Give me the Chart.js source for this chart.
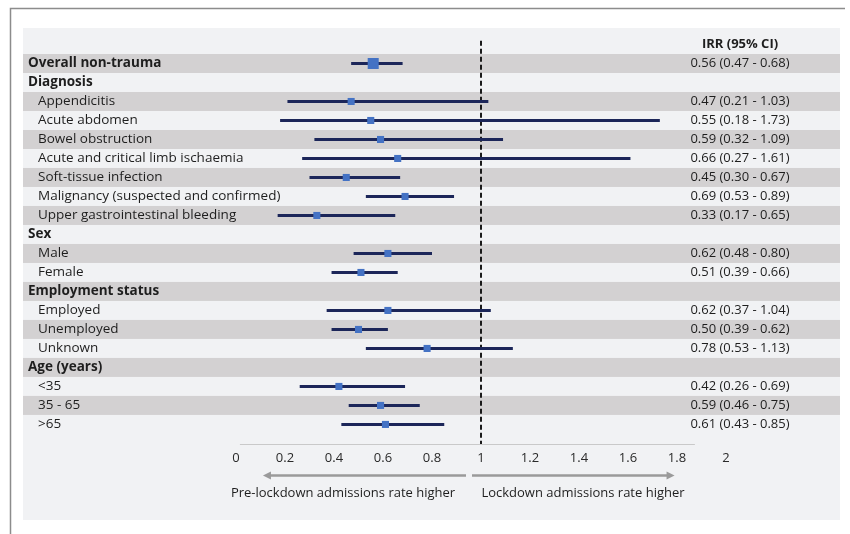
<!DOCTYPE html>
<html>
<head>
<meta charset="utf-8">
<script src="https://cdn.jsdelivr.net/npm/chart.js@4/dist/chart.umd.min.js"></script>
<style>
  html, body { margin: 0; padding: 0; background: #ffffff; }
  canvas { display: block; }
</style>
</head>
<body>
<canvas id="forest" width="850" height="534"></canvas>
<script>
// Rows of the forest plot, top to bottom
const rowLabels = [
  'Overall non-trauma', 'Diagnosis', 'Appendicitis', 'Acute abdomen', 'Bowel obstruction',
  'Acute and critical limb ischaemia', 'Soft-tissue infection', 'Malignancy (suspected and confirmed)',
  'Upper gastrointestinal bleeding', 'Sex', 'Male', 'Female', 'Employment status', 'Employed',
  'Unemployed', 'Unknown', 'Age (years)', '<35', '35 - 65', '>65'
];
// Bold heading rows (not indented)
const headingRows = ['Overall non-trauma', 'Diagnosis', 'Sex', 'Employment status', 'Age (years)'];
// Incidence rate ratios and 95% confidence limits
const irr   = [0.56, null, 0.47, 0.55, 0.59, 0.66, 0.45, 0.69, 0.33, null, 0.62, 0.51, null, 0.62, 0.50, 0.78, null, 0.42, 0.59, 0.61];
const ciLow = [0.47, null, 0.21, 0.18, 0.32, 0.27, 0.30, 0.53, 0.17, null, 0.48, 0.39, null, 0.37, 0.39, 0.53, null, 0.26, 0.46, 0.43];
const ciHigh= [0.68, null, 1.03, 1.73, 1.09, 1.61, 0.67, 0.89, 0.65, null, 0.80, 0.66, null, 1.04, 0.62, 1.13, null, 0.69, 0.75, 0.85];
const xTicks = [0, 0.2, 0.4, 0.6, 0.8, 1, 1.2, 1.4, 1.6, 1.8, 2];
const columnTitle = 'IRR (95% CI)';
const leftNote = 'Pre-lockdown admissions rate higher';
const rightNote = 'Lockdown admissions rate higher';

const FONT = '"Open Sans", "Liberation Sans", sans-serif';

// Confidence-interval segments, separated by gaps
const ciPoints = [];
const estPoints = [];
const estRadius = [];
irr.forEach((v, i) => {
  if (v === null) return;
  ciPoints.push({ x: ciLow[i], y: i }, { x: ciHigh[i], y: i }, { x: null, y: null });
  estPoints.push({ x: v, y: i });
  estRadius.push(i === 0 ? 7.8 : 5);
});

const backdrop = {
  id: 'backdrop',
  beforeDraw(chart) {
    const { ctx, scales: { y } } = chart;
    ctx.save();
    // outer frame
    ctx.strokeStyle = '#8c8c8c';
    ctx.lineWidth = 1.5;
    ctx.beginPath();
    ctx.moveTo(10.5, 534);
    ctx.lineTo(10.5, 8.5);
    ctx.lineTo(845, 8.5);
    ctx.stroke();
    // panel
    ctx.fillStyle = '#f1f2f4';
    ctx.fillRect(23, 28, 817, 492);
    // striped rows
    ctx.fillStyle = '#d3d1d2';
    rowLabels.forEach((_, i) => {
      if (i % 2 === 0) {
        const top = y.getPixelForValue(i - 0.5);
        const bot = y.getPixelForValue(i + 0.5);
        ctx.fillRect(23, top, 817, bot - top);
      }
    });
    ctx.restore();
  },
  afterDraw(chart) {
    const { ctx, scales: { x, y } } = chart;
    ctx.save();
    ctx.textBaseline = 'middle';
    // row labels and interval text
    rowLabels.forEach((lab, i) => {
      const bold = headingRows.includes(lab);
      ctx.font = (bold ? '700 ' : '400 ') + '13.5px ' + FONT;
      ctx.fillStyle = '#1e1e1e';
      ctx.textAlign = 'left';
      ctx.fillText(lab, bold ? 28 : 38, y.getPixelForValue(i));
      if (irr[i] !== null) {
        ctx.font = '400 13px ' + FONT;
        ctx.textAlign = 'center';
        const txt = irr[i].toFixed(2) + ' (' + ciLow[i].toFixed(2) + ' - ' + ciHigh[i].toFixed(2) + ')';
        ctx.fillText(txt, 740, y.getPixelForValue(i));
      }
    });
    ctx.font = '700 13px ' + FONT;
    ctx.textAlign = 'center';
    ctx.fillText(columnTitle, 740, y.getPixelForValue(-1));

    // axis line
    const axisY = Math.round(chart.chartArea.bottom) + 0.5;
    ctx.strokeStyle = '#c9c9c9';
    ctx.lineWidth = 1;
    ctx.beginPath();
    ctx.moveTo(x.getPixelForValue(0.016), axisY);
    ctx.lineTo(x.getPixelForValue(1.873), axisY);
    ctx.stroke();

    // direction arrows
    const arrowY = 475.5;
    const p1 = x.getPixelForValue(1);
    const arrow = (from, to) => {
      const dir = Math.sign(to - from);
      ctx.strokeStyle = '#9a9a9a';
      ctx.fillStyle = '#9a9a9a';
      ctx.lineWidth = 2.5;
      ctx.beginPath();
      ctx.moveTo(from, arrowY);
      ctx.lineTo(to - dir * 6, arrowY);
      ctx.stroke();
      ctx.beginPath();
      ctx.moveTo(to, arrowY);
      ctx.lineTo(to - dir * 8, arrowY - 4);
      ctx.lineTo(to - dir * 8, arrowY + 4);
      ctx.closePath();
      ctx.fill();
    };
    arrow(p1 - 15, x.getPixelForValue(0.11));
    arrow(p1 - 9, x.getPixelForValue(1.79));

    ctx.font = '400 13px ' + FONT;
    ctx.fillStyle = '#1e1e1e';
    ctx.textAlign = 'center';
    ctx.fillText(leftNote, 343, 493);
    ctx.fillText(rightNote, 583, 493);
    ctx.restore();
  }
};

new Chart(document.getElementById('forest'), {
  type: 'scatter',
  data: {
    datasets: [
      {
        label: 'null line',
        data: [{ x: 1, y: -1.2 }, { x: 1, y: 20.03 }],
        showLine: true,
        borderColor: '#1a1a1a',
        borderWidth: 2,
        borderDash: [5, 3],
        pointRadius: 0,
        order: 3
      },
      {
        label: '95% CI',
        data: ciPoints,
        showLine: true,
        spanGaps: false,
        borderColor: '#1c2659',
        borderWidth: 3,
        pointRadius: 0,
        order: 2
      },
      {
        label: 'IRR',
        data: estPoints,
        pointStyle: 'rect',
        pointRadius: estRadius,
        backgroundColor: '#4472c4',
        borderWidth: 0,
        order: 1
      }
    ]
  },
  options: {
    responsive: false,
    animation: false,
    layout: { padding: { left: 236, right: 124, top: 35, bottom: 0 } },
    plugins: { legend: { display: false }, tooltip: { enabled: false } },
    scales: {
      x: {
        type: 'linear',
        min: 0,
        max: 2,
        afterBuildTicks(scale) { scale.ticks = xTicks.map(v => ({ value: v })); },
        afterFit(scale) { scale.height = 90; },
        grid: { display: false, drawTicks: false },
        border: { display: false },
        ticks: {
          padding: 6,
          maxRotation: 0,
          color: '#2a2a2a',
          font: { family: FONT, size: 13 },
          callback: v => String(v)
        }
      },
      y: {
        type: 'linear',
        reverse: true,
        min: -1.5,
        max: 20.03,
        display: false
      }
    }
  },
  plugins: [backdrop]
});
</script>
</body>
</html>
